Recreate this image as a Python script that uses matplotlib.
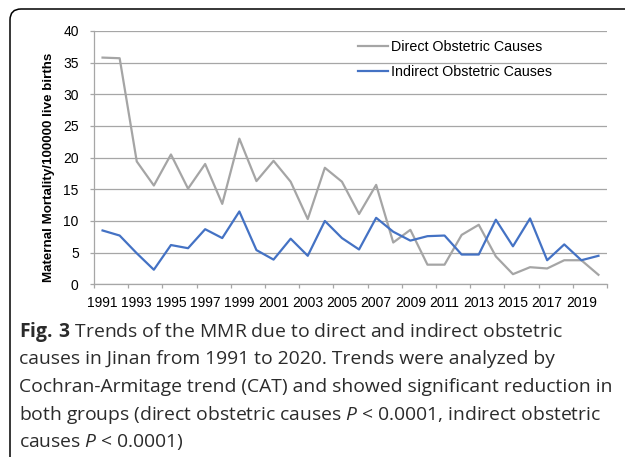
import numpy as np
import matplotlib
matplotlib.use('Agg')
import matplotlib.pyplot as plt
from matplotlib.patches import FancyBboxPatch
from matplotlib.transforms import IdentityTransform

# Anos e taxas (por 100000 nascidos vivos)
anos = list(range(1991, 2021))
diretas = [35.8, 35.7, 19.4, 15.6, 20.5, 15.1, 19.0, 12.7, 23.0, 16.3,
           19.5, 16.2, 10.3, 18.4, 16.2, 11.1, 15.7, 6.6, 8.6, 3.1,
           3.1, 7.8, 9.4, 4.4, 1.6, 2.7, 2.5, 3.8, 3.8, 1.5]
indiretas = [8.5, 7.7, 4.9, 2.3, 6.2, 5.7, 8.7, 7.3, 11.5, 5.4,
             3.9, 7.2, 4.5, 10.0, 7.3, 5.5, 10.5, 8.3, 6.9, 7.6,
             7.7, 4.7, 4.7, 10.2, 6.0, 10.4, 3.8, 6.3, 3.8, 4.5]
rotulo_dir = 'Direct Obstetric Causes'
rotulo_ind = 'Indirect Obstetric Causes'
yticks = [0, 5, 10, 15, 20, 25, 30, 35, 40]

legenda = [
    r'$\mathbf{Fig.\:3}$ Trends of the MMR due to direct and indirect obstetric',
    'causes in Jinan from 1991 to 2020. Trends were analyzed by',
    'Cochran-Armitage trend (CAT) and showed significant reduction in',
    r'both groups (direct obstetric causes $P$ < 0.0001, indirect obstetric',
    r'causes $P$ < 0.0001$\mathit{)}$',
]

plt.rcParams['font.family'] = ['Liberation Sans', 'DejaVu Sans']
plt.rcParams['mathtext.fontset'] = 'custom'
plt.rcParams['mathtext.rm'] = 'Open Sans'
plt.rcParams['mathtext.it'] = 'Open Sans:italic'
plt.rcParams['mathtext.bf'] = 'Open Sans:bold'

cinza_grade = '#a6a6a6'

fig = plt.figure(figsize=(6.25, 4.57), dpi=100)
ax = fig.add_axes([94 / 625, 1 - 284.3 / 457, 513 / 625, 253.3 / 457])

x = np.arange(len(anos))
ax.plot(x, diretas, color='#a5a5a5', lw=1.6, label=rotulo_dir)
ax.plot(x, indiretas, color='#4472c4', lw=1.6, label=rotulo_ind)

ax.set_xlim(-0.5, len(anos) - 0.5)
ax.set_ylim(0, 40)
ax.set_yticks(yticks)
ax.yaxis.grid(True, color=cinza_grade, lw=0.9)
ax.set_axisbelow(True)
for lado in ['top', 'right']:
    ax.spines[lado].set_visible(False)
for lado in ['left', 'bottom']:
    ax.spines[lado].set_color(cinza_grade)
    ax.spines[lado].set_linewidth(0.9)

# marcas entre categorias, rotulos no centro
ax.set_xticks(np.arange(-0.5, len(anos), 2))
ax.set_xticklabels([])
ax.set_xticks(x[::2], minor=True)
ax.set_xticklabels([str(a) for a in anos[::2]], minor=True, fontsize=10)
ax.tick_params(axis='x', which='major', length=3, color=cinza_grade, width=0.9)
ax.tick_params(axis='x', which='minor', length=0, pad=8.5)
ax.tick_params(axis='y', length=3, color=cinza_grade, width=0.9, labelsize=10, pad=8)

ax.set_ylabel('Maternal Mortality/100000 live births', fontsize=9.6, fontweight='bold',
              labelpad=6, y=0.46)

ax.legend(loc='upper left', bbox_to_anchor=(0.515, 0.965), frameon=False, fontsize=10.3,
          handlelength=2.05, handletextpad=0.25, labelspacing=0.75, borderpad=0, borderaxespad=0)

# moldura arredondada
moldura = FancyBboxPatch((10, -20), 660, 468, boxstyle='round,pad=0,rounding_size=11',
                         transform=IdentityTransform(), fill=False, ec='black', lw=1.1)
fig.patches.append(moldura)

for i, linha in enumerate(legenda):
    fig.text(19 / 625, 1 - (337 + 27.5 * i) / 457, linha, fontsize=13.9, family='Open Sans',
             va='baseline', ha='left', color='#2b2b2b')

fig.savefig('out.png', dpi=100)
